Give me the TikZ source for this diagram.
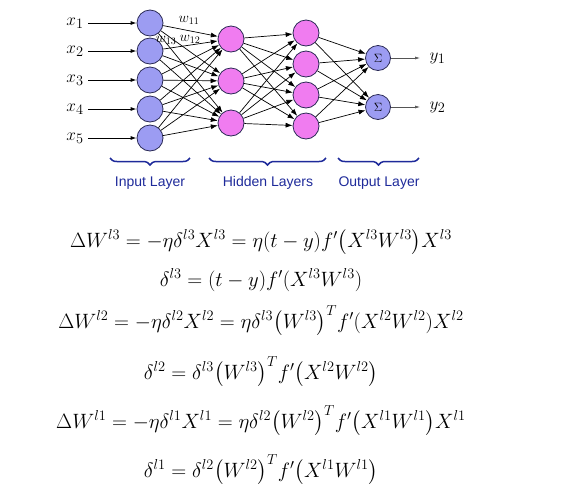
\documentclass[tikz,border=0pt]{standalone}
\usepackage{amsmath}
\usepackage{fontspec}
\setsansfont{Liberation Sans}
\usepackage{tikz}
\usetikzlibrary{arrows.meta,decorations.pathreplacing}
\definecolor{inblue}{HTML}{9C9CF2}
\definecolor{hidpink}{HTML}{F07CF0}
\definecolor{rimdark}{HTML}{2A2A55}
\definecolor{bracebl}{HTML}{1E2A9A}
\definecolor{outgray}{HTML}{555555}
\tikzset{
  neuin/.style ={circle, draw=rimdark, line width=0.8pt, fill=inblue, minimum size=26pt, inner sep=0pt},
  neuhid/.style={neuin, fill=hidpink},
  wire/.style  ={-{Latex[length=7pt,width=5pt]}, line width=0.7pt},
  feed/.style  ={-{Latex[length=6pt,width=4pt]}, line width=0.9pt},
  outar/.style ={-{Latex[length=5pt,width=3pt]}, line width=0.6pt, draw=outgray},
  brc/.style   ={decorate, decoration={brace, mirror, amplitude=7pt}, draw=bracebl, line width=1.5pt},
  lyr/.style   ={text=bracebl, font=\sffamily\fontsize{14}{16}\selectfont},
  io/.style    ={font=\fontsize{19}{22}\selectfont},
  wlab/.style  ={font=\fontsize{14}{16}\selectfont, inner sep=0pt},
  eqn/.style   ={anchor=base, font=\fontsize{20}{24}\selectfont, inner sep=0pt},
}
\begin{document}
\begin{tikzpicture}[x=1pt,y=-1pt]
\useasboundingbox (0,0) rectangle (567,491);
% layers
\foreach \i/\y in {1/23,2/51,3/80,4/109,5/138} {
  \node[neuin] (in\i) at (150,\y) {};
  \node[io] (lx\i) at (75,\y) {$x_{\i}$};
  \coordinate (xs\i) at (88,\y);
  \draw[feed] (xs\i) -- (in\i);
}
\foreach \j/\y in {1/39,2/81,3/123}
  \node[neuhid] (ha\j) at (231,\y) {};
\foreach \k/\y in {1/33,2/64,3/95,4/126}
  \node[neuhid] (hb\k) at (306,\y) {};
\foreach \m/\y in {1/58,2/107} {
  \node[neuin, minimum size=25pt, font=\fontsize{12}{14}\selectfont] (out\m) at (378,\y) {$\Sigma$};
  \coordinate (ye\m) at (420,\y);
  \draw[outar] (out\m) -- (ye\m);
  \node[io, anchor=west] (ly\m) at (426,\y) {$y_{\m}$};
}
% weights
\node[wlab] (w11) at (189,20) {$w_{11}$};
\node[wlab] (w12) at (190,39) {$w_{12}$};
\node[wlab] (w13) at (166,40) {$w_{13}$};
% connections
\foreach \i in {1,...,5}
  \foreach \j in {1,2,3}
    \draw[wire] (in\i) -- (ha\j);
\foreach \j in {1,2,3}
  \foreach \k in {1,...,4}
    \draw[wire] (ha\j) -- (hb\k);
\foreach \k in {1,...,4}
  \foreach \m in {1,2}
    \draw[wire] (hb\k) -- (out\m);
% braces
\draw[brc] (110,158) -- (190,158);
\draw[brc] (209,158) -- (326,158);
\draw[brc] (338,158) -- (419,158);
\node[lyr] (lin) at (150,183) {Input Layer};
\node[lyr] (lhid) at (268,183) {Hidden Layers};
\node[lyr] (lout) at (379,183) {Output Layer};
% equations
\node[eqn] (e1) at (261,247) {$\Delta W^{l3}=-\eta\delta^{l3}X^{l3}=\eta(t-y)f'\big(X^{l3}W^{l3}\big)X^{l3}$};
\node[eqn] (e2) at (261,286) {$\delta^{l3}=(t-y)f'(X^{l3}W^{l3})$};
\node[eqn] (e3) at (261,328) {$\Delta W^{l2}=-\eta\delta^{l2}X^{l2}=\eta\delta^{l3}\big(W^{l3}\big)^T f'(X^{l2}W^{l2})X^{l2}$};
\node[eqn] (e4) at (261,379) {$\delta^{l2}=\delta^{l3}\big(W^{l3}\big)^T f'\big(X^{l2}W^{l2}\big)$};
\node[eqn] (e5) at (261,428) {$\Delta W^{l1}=-\eta\delta^{l1}X^{l1}=\eta\delta^{l2}\big(W^{l2}\big)^T f'\big(X^{l1}W^{l1}\big)X^{l1}$};
\node[eqn] (e6) at (261,477) {$\delta^{l1}=\delta^{l2}\big(W^{l2}\big)^T f'\big(X^{l1}W^{l1}\big)$};
\end{tikzpicture}
\end{document}
